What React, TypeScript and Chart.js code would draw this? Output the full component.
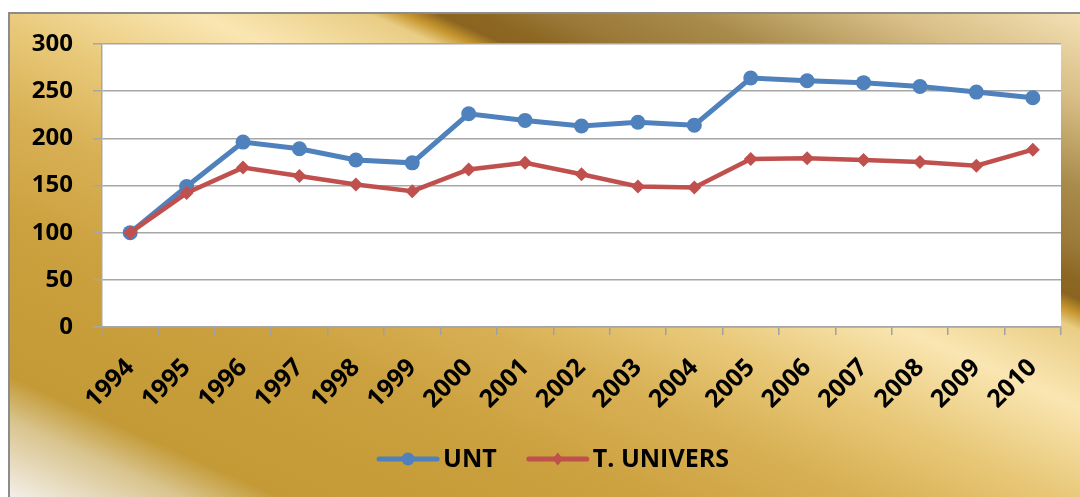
import React, { useEffect, useRef } from "react";
import { Chart, registerables } from "chart.js";

Chart.register(...registerables);

const years = ["1994","1995","1996","1997","1998","1999","2000","2001","2002","2003","2004","2005","2006","2007","2008","2009","2010"];
const untValues = [100, 149, 196, 189, 177, 174, 226, 219, 213, 217, 214, 264, 261, 259, 255, 249, 243];
const tUniversValues = [100, 142, 169, 160, 151, 144, 167, 174, 162, 149, 148, 178, 179, 177, 175, 171, 188];
const seriesNames = ["UNT", "T. UNIVERS"];
const seriesColors = ["#4F81BD", "#C0504D"];
const seriesMarkers = ["circle", "rectRot"];
const yMin = 0;
const yMax = 300;
const yStep = 50;

const FONT = "'Open Sans', 'Noto Sans', sans-serif";

const plotBackground = {
  id: "plotBackground",
  beforeDraw(chart: any) {
    const { ctx, chartArea } = chart;
    ctx.save();
    ctx.fillStyle = "#ffffff";
    ctx.fillRect(chartArea.left, chartArea.top, chartArea.right - chartArea.left, chartArea.bottom - chartArea.top);
    ctx.restore();
  },
};

const lineLegend = {
  id: "lineLegend",
  afterDraw(chart: any) {
    const ctx = chart.ctx;
    const ds = chart.data.datasets;
    const lineW = 62;
    const textGap = 4;
    const itemGap = 30;
    ctx.save();
    ctx.font = `bold 25px ${FONT}`;
    const widths = ds.map((d: any) => lineW + textGap + ctx.measureText(d.label).width);
    const total = widths.reduce((a: number, b: number) => a + b, 0) + itemGap * (ds.length - 1);
    let x = chart.width / 2 + 8 - total / 2;
    const y = chart.height - 38;
    ds.forEach((d: any, i: number) => {
      const color = d.borderColor;
      ctx.strokeStyle = color;
      ctx.lineWidth = 5;
      ctx.lineCap = "round";
      ctx.beginPath();
      ctx.moveTo(x + 2, y);
      ctx.lineTo(x + lineW - 2, y);
      ctx.stroke();
      const cx = x + lineW / 2;
      ctx.fillStyle = color;
      ctx.beginPath();
      if (d.pointStyle === "circle") {
        ctx.arc(cx, y, 6.5, 0, Math.PI * 2);
      } else {
        const r = 6.5;
        ctx.moveTo(cx, y - r);
        ctx.lineTo(cx + r * 0.8, y);
        ctx.lineTo(cx, y + r);
        ctx.lineTo(cx - r * 0.8, y);
        ctx.closePath();
      }
      ctx.fill();
      ctx.fillStyle = "#000000";
      ctx.textBaseline = "middle";
      ctx.textAlign = "left";
      ctx.fillText(d.label, x + lineW + textGap, y + 1);
      x += widths[i] + itemGap;
    });
    ctx.restore();
  },
};

export default function App() {
  const canvasRef = useRef<HTMLCanvasElement | null>(null);

  useEffect(() => {
    if (!canvasRef.current) return;
    const chart = new Chart(canvasRef.current, {
      type: "line",
      data: {
        labels: years,
        datasets: [
          {
            label: seriesNames[0],
            data: untValues,
            borderColor: seriesColors[0],
            backgroundColor: seriesColors[0],
            borderWidth: 5,
            pointStyle: seriesMarkers[0] as any,
            pointRadius: 7.5,
            pointBorderWidth: 0,
            tension: 0,
            order: 1,
          },
          {
            label: seriesNames[1],
            data: tUniversValues,
            borderColor: seriesColors[1],
            backgroundColor: seriesColors[1],
            borderWidth: 4.5,
            pointStyle: seriesMarkers[1] as any,
            pointRadius: 7,
            pointBorderWidth: 0,
            tension: 0,
            order: 0,
          },
        ],
      },
      options: {
        animation: false,
        responsive: true,
        maintainAspectRatio: false,
        layout: { padding: { top: 30, right: 19, left: 0, bottom: 0 } },
        plugins: {
          legend: { display: false },
          tooltip: { enabled: false },
        },
        scales: {
          x: {
            offset: true,
            afterFit(scale: any) {
              scale.height = 170;
            },
            grid: {
              display: true,
              drawOnChartArea: false,
              drawTicks: true,
              tickLength: 8,
              color: "#a0a0a0",
              lineWidth: 1.5,
              offset: true,
            },
            border: { display: true, color: "#a6a6a6", width: 1.5 },
            ticks: {
              minRotation: 45,
              maxRotation: 45,
              autoSkip: false,
              padding: 18,
              color: "#000000",
              font: { family: FONT, size: 25, weight: "bold" },
            },
          },
          y: {
            min: yMin,
            max: yMax,
            afterFit(scale: any) {
              scale.width = 92;
              scale.paddingTop = 0;
              scale.paddingBottom = 0;
            },
            grid: {
              color: "#a6a6a6",
              lineWidth: 1.5,
              drawTicks: true,
              tickLength: 9,
            },
            border: { display: true, color: "#a6a6a6", width: 1.5 },
            ticks: {
              stepSize: yStep,
              padding: 20,
              color: "#000000",
              font: { family: FONT, size: 24, weight: "bold" },
            },
          },
        },
      },
      plugins: [plotBackground, lineLegend],
    });
    return () => chart.destroy();
  }, []);

  const bg =
    "linear-gradient(204deg, #F3E0B4 0%, #D8BE86 9%, #A88B4B 18.3%, #9A7838 24.5%, #8C6722 27.9%, #8A6420 29.8%, #C5952E 31.3%, #E9CD85 33%, #FAE6B2 41%, #E8C878 51%, #D8B054 60.3%, #CBA03E 71.6%, #C39A36 87.5%, #D9C48E 92%, #F3EFE8 100%)";

  return (
    <div
      style={{
        position: "absolute",
        left: 8,
        top: 12,
        width: 1072,
        height: 485,
        boxSizing: "border-box",
        borderLeft: "2px solid #8c8c8c",
        borderTop: "2px solid #8c8c8c",
        background: bg,
        overflow: "hidden",
      }}
    >
      <div style={{ position: "relative", width: 1070, height: 483 }}>
        <canvas ref={canvasRef} />
      </div>
    </div>
  );
}
